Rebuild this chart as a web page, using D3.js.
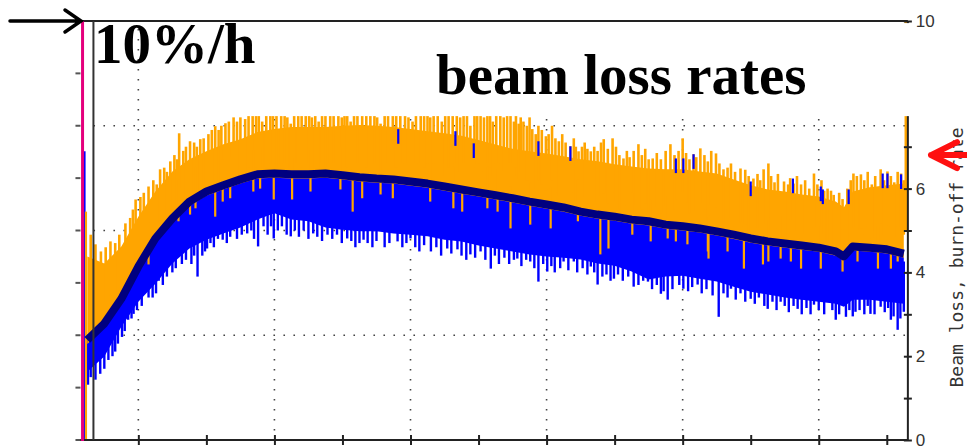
<!DOCTYPE html>
<html><head><meta charset="utf-8">
<script src="https://cdn.jsdelivr.net/npm/d3@7"></script>
<style>html,body{margin:0;padding:0;background:#fff;}svg{display:block;}</style>
</head><body>
<svg id="c" width="967" height="448"></svg>
<script>
// ---- data (time in hours after start, rates in %/h) ----
const times = [0.25,0.5,0.75,1,1.25,1.5,1.75,2,2.25,2.5,2.75,3,3.25,3.5,3.75,4,4.25,4.5,4.75,5,5.25,5.5,5.75,6,6.25,6.5,6.75,7,7.25,7.5,7.75,8,8.25,8.5,8.75,9,9.25,9.5,9.75,10,10.25,10.5,10.75,11,11.25,11.37,11.5,11.75,12,12.25];
const burnOffRate = [2.39,2.78,3.37,4.14,4.81,5.29,5.69,5.93,6.08,6.22,6.34,6.36,6.34,6.34,6.36,6.32,6.27,6.24,6.22,6.17,6.12,6.05,5.98,5.91,5.84,5.77,5.69,5.62,5.55,5.45,5.38,5.33,5.26,5.22,5.14,5.10,5.05,4.98,4.90,4.81,4.74,4.69,4.64,4.59,4.50,4.38,4.62,4.59,4.55,4.45];
const lossUpper = [4.38,4.21,4.62,5.33,5.93,6.41,6.70,6.89,7.06,7.18,7.35,7.42,7.47,7.47,7.47,7.50,7.52,7.50,7.47,7.42,7.37,7.32,7.26,7.16,7.05,6.95,6.89,6.84,6.77,6.70,6.65,6.58,6.53,6.48,6.46,6.46,6.41,6.36,6.22,6.08,5.98,5.93,5.86,5.81,5.69,5.55,5.93,6.03,6.08,6.12];
const lossLower = [1.63,1.99,2.70,3.30,3.73,4.21,4.57,4.78,4.93,5.07,5.26,5.41,5.26,5.22,5.07,5.02,4.98,4.98,4.93,4.90,4.86,4.78,4.74,4.64,4.57,4.50,4.43,4.38,4.35,4.31,4.21,4.16,4.02,3.83,3.90,3.92,3.85,3.78,3.66,3.54,3.47,3.40,3.35,3.30,3.25,3.18,3.35,3.35,3.30,3.25];
// isolated upward peaks of the orange loss trace [time, value, (optional base)]
const orangePeaks = [[0.30,4.9],[0.37,4.67],[0.45,4.5],[0.52,4.6],[0.59,4.74],[0.66,4.7],[0.72,4.9],[0.81,5.17],[0.88,5.3],[0.92,5.5],[0.96,5.74],[1.03,5.8],[1.08,5.9],[1.15,6.05],[1.22,6.2],[1.27,6.1],[1.32,6.46],[1.38,6.5],[1.42,6.4],[1.47,6.65],[1.53,6.8],[1.57,6.7],[1.60,7.32],[1.66,6.9],[1.70,7.0],[1.76,7.13],[1.82,7.1],[1.86,7.0],[1.91,7.18],[1.96,7.2],[2.03,7.3],[2.08,7.4],[2.13,7.49],[2.18,7.4],[2.22,7.5],[2.28,7.56],[2.33,7.6],[2.40,7.70],[2.45,7.6],[2.50,7.7],[2.57,7.66],[2.62,7.8],[2.68,7.9],[2.73,7.8],[2.77,7.9],[2.82,7.6],[2.88,7.8],[2.94,7.9],[2.98,7.9],[3.03,7.8],[3.10,7.9],[3.15,7.9],[3.19,7.7],[3.24,7.55],[3.29,7.9],[3.35,7.9],[3.40,7.8],[3.46,7.9],[3.51,7.9],[3.55,7.7],[3.60,7.9],[3.65,7.6],[3.70,7.9],[3.75,7.8],[3.82,7.9],[3.87,7.9],[3.94,7.9],[3.99,7.7],[4.03,7.9],[4.07,7.8],[4.12,7.6],[4.17,7.9],[4.22,7.9],[4.29,7.9],[4.35,7.8],[4.41,7.9],[4.47,7.9],[4.51,7.7],[4.56,7.55],[4.62,7.9],[4.67,7.9],[4.74,7.9],[4.79,7.8],[4.85,7.9],[4.92,7.9],[4.97,7.7],[5.03,7.6],[5.08,7.9],[5.15,7.9],[5.20,7.8],[5.25,7.9],[5.29,7.7],[5.34,7.9],[5.40,7.9],[5.46,7.6],[5.51,7.9],[5.56,7.8],[5.62,7.9],[5.68,7.9],[5.73,7.7],[5.78,7.9],[5.83,7.9],[5.88,7.5],[5.94,7.8],[5.98,7.9],[6.03,7.9],[6.08,7.7],[6.13,7.9],[6.17,7.8],[6.21,7.6],[6.26,7.9],[6.32,7.9],[6.37,7.7],[6.42,7.9],[6.47,7.9],[6.52,7.6],[6.55,7.8],[6.59,7.55],[6.62,7.70],[6.66,7.6],[6.71,7.5],[6.75,7.7],[6.79,7.42],[6.84,7.3],[6.88,7.5],[6.93,7.4],[6.99,7.25],[7.03,7.3],[7.08,7.5],[7.13,7.2],[7.18,7.13],[7.23,7.3],[7.28,7.1],[7.35,7.01],[7.40,7.2],[7.43,7.0],[7.47,6.89],[7.52,7.0],[7.56,7.1],[7.60,6.95],[7.65,6.89],[7.70,7.0],[7.75,6.9],[7.80,7.1],[7.84,7.18],[7.90,6.95],[7.97,7.20],[8.02,7.0],[8.07,6.8],[8.13,6.72],[8.18,6.9],[8.22,6.75],[8.28,6.9],[8.35,7.06],[8.40,6.8],[8.45,6.95],[8.50,6.7],[8.56,6.72],[8.62,6.85],[8.68,6.7],[8.75,6.9],[8.82,7.06],[8.88,6.8],[8.94,6.9],[9.00,7.20],[9.05,6.85],[9.10,6.7],[9.16,6.82],[9.20,6.75],[9.26,6.96],[9.32,6.8],[9.37,6.65],[9.42,6.9],[9.49,6.84],[9.54,6.6],[9.60,6.46],[9.66,6.5],[9.71,6.6],[9.77,6.4],[9.85,6.48],[9.92,6.45],[9.97,6.3],[10.04,6.24],[10.10,6.35],[10.14,6.2],[10.19,6.46],[10.26,6.60],[10.30,6.3],[10.35,6.15],[10.40,6.35],[10.49,6.17],[10.55,6.1],[10.58,6.25],[10.63,6.12],[10.68,6.3],[10.74,6.1],[10.80,6.2],[10.86,6.0],[10.93,6.36],[10.98,6.1],[11.04,6.2],[11.08,5.95],[11.13,6.00],[11.18,5.95],[11.22,5.85],[11.30,5.9],[11.35,5.75],[11.42,6.0],[11.47,6.2],[11.51,6.36],[11.56,6.3],[11.62,6.34],[11.67,6.2],[11.72,6.4],[11.78,6.1],[11.83,6.3],[11.91,6.46],[11.96,6.2],[12.01,6.41],[12.06,6.3],[12.11,6.15],[12.16,6.4],[12.21,6.36],[12.25,6.2],[12.28,10,5.0]];
// isolated downward dips of the blue loss trace [time, value]
const blueDips = [[0.26,1.32],[0.30,1.5],[0.37,1.44],[0.44,1.58],[0.50,1.7],[0.56,1.91],[0.62,2.0],[0.66,2.11],[0.70,2.3],[0.76,2.46],[0.80,2.6],[0.85,2.87],[0.90,2.9],[0.93,3.01],[0.98,3.1],[1.05,3.2],[1.10,3.54],[1.15,3.4],[1.21,3.40],[1.26,3.5],[1.30,3.8],[1.36,3.7],[1.42,3.9],[1.50,4.0],[1.55,4.1],[1.64,4.2],[1.70,4.3],[1.78,4.2],[1.82,4.4],[1.87,3.90],[1.94,4.4],[1.98,4.5],[2.01,4.57],[2.06,4.7],[2.11,4.6],[2.17,4.8],[2.24,4.78],[2.30,4.7],[2.35,4.85],[2.45,4.8],[2.52,4.9],[2.60,4.93],[2.66,5.0],[2.70,4.8],[2.76,4.62],[2.84,5.1],[2.90,4.9],[2.95,5.1],[2.99,4.81],[3.05,5.0],[3.11,5.1],[3.18,4.9],[3.24,4.86],[3.30,5.0],[3.36,4.85],[3.43,5.0],[3.50,4.8],[3.57,4.93],[3.63,4.85],[3.70,4.75],[3.78,4.90],[3.85,4.8],[3.92,4.9],[3.99,4.7],[4.07,4.81],[4.13,4.75],[4.19,4.6],[4.25,4.7],[4.31,4.78],[4.37,4.7],[4.44,4.6],[4.50,4.75],[4.62,4.6],[4.69,4.7],[4.81,4.74],[4.88,4.6],[4.94,4.7],[5.00,4.81],[5.07,4.6],[5.13,4.5],[5.20,4.65],[5.30,4.5],[5.38,4.6],[5.45,4.4],[5.54,4.57],[5.60,4.45],[5.69,4.55],[5.75,4.4],[5.82,4.3],[5.88,4.43],[5.95,4.35],[6.03,4.5],[6.10,4.3],[6.18,4.09],[6.24,4.4],[6.30,4.2],[6.38,4.35],[6.45,4.2],[6.52,4.3],[6.57,4.33],[6.63,4.15],[6.70,4.3],[6.76,4.26],[6.82,4.1],[6.88,3.78],[6.95,4.2],[7.01,4.02],[7.07,4.15],[7.12,4.0],[7.20,4.1],[7.25,4.26],[7.32,4.05],[7.40,4.26],[7.45,4.0],[7.53,4.1],[7.60,3.95],[7.65,4.14],[7.70,4.0],[7.75,3.71],[7.82,3.9],[7.88,3.95],[7.94,3.8],[7.99,3.85],[8.05,3.95],[8.12,3.8],[8.20,3.9],[8.28,3.66],[8.35,3.7],[8.42,3.8],[8.49,3.78],[8.55,3.6],[8.62,3.7],[8.68,3.49],[8.72,3.55],[8.78,3.35],[8.85,3.6],[8.95,3.7],[9.01,3.61],[9.08,3.55],[9.14,3.65],[9.22,3.71],[9.28,3.5],[9.35,3.6],[9.44,3.45],[9.53,2.94],[9.60,3.5],[9.66,3.4],[9.71,3.61],[9.78,3.35],[9.85,3.5],[9.92,3.3],[10.00,3.37],[10.06,3.25],[10.12,3.4],[10.20,3.2],[10.25,3.13],[10.32,3.3],[10.38,3.1],[10.44,3.30],[10.50,3.2],[10.56,3.05],[10.63,3.2],[10.69,3.13],[10.75,3.0],[10.82,3.15],[10.88,3.0],[10.93,3.23],[11.00,3.1],[11.08,3.0],[11.13,3.35],[11.20,3.1],[11.25,2.87],[11.30,3.0],[11.40,2.94],[11.45,3.1],[11.50,2.95],[11.54,3.06],[11.60,3.1],[11.67,3.0],[11.72,3.2],[11.76,3.01],[11.82,3.0],[11.91,3.18],[11.97,3.05],[12.02,3.15],[12.06,2.87],[12.10,2.95],[12.16,2.63],[12.20,2.9],[12.25,3.06]];
// orange readings below the burn-off band [time, value]
const orangeDips = [[1.15,4.19],[1.59,5.22],[1.76,5.38],[1.84,5.53],[2.13,5.33],[2.24,5.69],[2.35,5.77],[2.69,5.93],[2.79,6.00],[2.99,5.74],[3.26,5.74],[3.53,5.93],[3.97,5.98],[4.15,5.45],[4.29,5.77],[4.56,5.86],[4.74,5.77],[5.29,5.69],[5.63,5.53],[5.76,5.45],[6.13,5.53],[6.28,5.45],[6.47,5.05],[6.76,5.14],[7.06,5.05],[7.46,5.22],[7.79,4.43],[7.91,4.57],[8.26,4.90],[8.53,4.74],[8.78,4.81],[8.90,4.74],[9.07,4.67],[9.37,4.50],[9.38,4.33],[9.66,4.50],[9.90,4.09],[10.18,4.19],[10.26,4.26],[10.44,4.33],[10.59,4.26],[10.74,4.09],[11.03,4.09],[11.35,4.02],[11.57,4.26],[11.87,4.09],[12.06,4.09],[12.16,4.26]];
// blue readings poking above the orange band [time, value]
const bluePeaks = [[4.82,7.42],[5.66,7.37],[5.93,7.08],[6.88,7.13],[7.35,7.01],[8.90,6.72],[9.01,6.72],[9.16,6.82],[10.00,6.17],[10.62,6.24],[11.03,6.05],[11.06,5.98],[11.44,5.98],[11.94,6.36],[12.01,6.36],[12.21,6.34]];
const startBlue = [0.21, 6.89];
const startOrange = [0.23, 5.45];
const markerTime = 0.18;
const rightTicks = [0,1,2,3,4,5,6,7,8,9,10];
const rightLabels = [0,2,4,6,10];
const leftTicks = [0,1,2,3,4,5,6,7,8];
const leftGrid = [2,4,6];
const timeTicks = [1,2,3,4,5,6,7,8,9,10,11,12];
const timeGrid = [1,3,5,7,9,11];
const axisTitle = "Beam loss, burn-off rate";

// ---- scales ----
const x = d3.scaleLinear().domain([0, 12.5]).range([70.3, 70.3 + 68.04 * 12.5]);
const y = d3.scaleLinear().domain([0, 10]).range([440, 21]);
const yL = d3.scaleLinear().domain([0, 8]).range([440, 21]);
const tLeft = 0.34, tRight = 12.31, tAxisStart = 0.12;

const svg = d3.select('#c');
const ORANGE = '#ffa500', BLUE = '#0000ff', NAVY = '#000080';

// gridlines
const grid = svg.append('g').attr('stroke', '#444').attr('stroke-width', 1.6).attr('stroke-dasharray', '1.6,8.4');
timeGrid.forEach(t => grid.append('line').attr('x1', x(t)).attr('x2', x(t)).attr('y1', y(10) + 8).attr('y2', y(0)));
leftGrid.forEach(v => grid.append('line').attr('x1', x(tLeft)).attr('x2', x(tRight)).attr('y1', yL(v)).attr('y2', yL(v)));

const idx = d3.range(times.length);
const data = svg.append('g');
// blue band
data.append('path').datum(idx)
  .attr('d', d3.area().x(i => x(times[i])).y0(i => y(lossLower[i])).y1(i => y(burnOffRate[i] + 0.1)))
  .attr('fill', BLUE);
data.append('g').attr('stroke', BLUE).attr('stroke-width', 2.4).selectAll('line').data(blueDips).join('line')
  .attr('x1', d => x(d[0])).attr('x2', d => x(d[0])).attr('y1', d => y(d[1])).attr('y2', d => y(d[1] + 1.2));
data.append('line').attr('stroke', BLUE).attr('stroke-width', 2)
  .attr('x1', x(startBlue[0])).attr('x2', x(startBlue[0])).attr('y1', y(0)).attr('y2', y(startBlue[1]));
// orange band
data.append('path').datum(idx)
  .attr('d', d3.area().x(i => x(times[i])).y0(i => y(burnOffRate[i] - 0.1)).y1(i => y(lossUpper[i])))
  .attr('fill', ORANGE);
data.append('g').attr('stroke', ORANGE).attr('stroke-width', 2.6).selectAll('line').data(orangePeaks).join('line')
  .attr('x1', d => x(d[0])).attr('x2', d => x(d[0])).attr('y1', d => y(d[1])).attr('y2', d => y(d[2] !== undefined ? d[2] : d[1] - 1.3));
data.append('g').attr('stroke', ORANGE).attr('stroke-width', 2.2).selectAll('line').data(orangeDips).join('line')
  .attr('x1', d => x(d[0])).attr('x2', d => x(d[0])).attr('y1', d => y(d[1])).attr('y2', d => y(d[1] + 1.0));
data.append('line').attr('stroke', ORANGE).attr('stroke-width', 2.2)
  .attr('x1', x(startOrange[0])).attr('x2', x(startOrange[0])).attr('y1', y(0)).attr('y2', y(startOrange[1]));
data.append('g').attr('stroke', BLUE).attr('stroke-width', 2.2).selectAll('line').data(bluePeaks).join('line')
  .attr('x1', d => x(d[0])).attr('x2', d => x(d[0])).attr('y1', d => y(d[1])).attr('y2', d => y(d[1] - 0.35));
// burn-off rate
data.append('path').datum(idx)
  .attr('d', d3.line().x(i => x(times[i])).y(i => y(burnOffRate[i])))
  .attr('fill', 'none').attr('stroke', NAVY).attr('stroke-width', 8).attr('stroke-linejoin', 'round');

// frame
const frame = svg.append('g').attr('stroke', '#222').attr('stroke-width', 2);
frame.append('line').attr('x1', x(tAxisStart)).attr('x2', x(tRight)).attr('y1', y(0)).attr('y2', y(0));
frame.append('line').attr('x1', x(tAxisStart)).attr('x2', x(tRight)).attr('y1', y(10)).attr('y2', y(10));
frame.append('line').attr('x1', x(tLeft)).attr('x2', x(tLeft)).attr('y1', y(10)).attr('y2', y(0)).attr('stroke', '#333');
frame.append('line').attr('x1', x(tRight)).attr('x2', x(tRight)).attr('y1', y(10)).attr('y2', y(0) + 1);

// bottom ticks (crossing)
const bAxis = svg.append('g').attr('transform', `translate(0,${y(0)})`)
  .call(d3.axisBottom(x).tickValues(timeTicks).tickSize(5).tickFormat(''));
bAxis.select('.domain').remove();
bAxis.selectAll('.tick line').attr('y1', -5).attr('y2', 5).attr('stroke', '#222').attr('stroke-width', 2);

// left small ticks
svg.append('g').attr('stroke', '#555').attr('stroke-width', 2).selectAll('line').data(leftTicks).join('line')
  .attr('x1', x(tAxisStart) - 3).attr('x2', x(tAxisStart) + 2).attr('y1', d => yL(d)).attr('y2', d => yL(d));

// pasted-over white label box (as in the reference composite)
svg.append('rect').attr('x', x(1.13)).attr('y', y(9.95)).attr('width', x(12.39) - x(1.13)).attr('height', y(7.73) - y(9.95)).attr('fill', '#fff');

// right axis
const rAxis = svg.append('g').attr('transform', `translate(${x(tRight)},0)`)
  .call(d3.axisRight(y).tickValues(rightTicks).tickSize(4).tickPadding(4)
    .tickFormat(d => rightLabels.includes(d) ? d : ''));
rAxis.select('.domain').remove();
rAxis.selectAll('.tick line').attr('x1', -4).attr('x2', 4).attr('stroke', '#222').attr('stroke-width', 2)
  .attr('display', d => (d === 8 || d === 9) ? 'none' : null);
rAxis.selectAll('.tick text').attr('font-family', '"Liberation Sans", Arial, sans-serif').attr('font-size', 17).attr('fill', '#333');

// marker line (magenta)
svg.append('line').attr('x1', x(markerTime)).attr('x2', x(markerTime)).attr('y1', y(10)).attr('y2', y(0) + 1)
  .attr('stroke', '#e4007c').attr('stroke-width', 3);

// axis title
svg.append('text').attr('transform', `translate(963,${(y(0) + y(10)) / 2 + 27}) rotate(-90)`)
  .attr('text-anchor', 'middle').attr('font-family', '"DejaVu Sans Mono", monospace').attr('font-size', 18)
  .attr('fill', '#333').text(axisTitle);

// red arrow
const ay = y(6.8);
svg.append('path').attr('d', `M967,${ay} L931,${ay} M957,${ay - 13} L931,${ay} L957,${ay + 13}`)
  .attr('fill', 'none').attr('stroke', '#ff1010').attr('stroke-width', 6).attr('stroke-linecap', 'round').attr('stroke-linejoin', 'round');

// black arrow at 10 %/h
const by = y(10);
svg.append('path').attr('d', `M10,${by} L80,${by} M65,${by - 11} L81,${by} L65,${by + 11}`)
  .attr('fill', 'none').attr('stroke', '#000').attr('stroke-width', 3.5).attr('stroke-linecap', 'round');

// big labels
svg.append('text').attr('x', 94).attr('y', 63).attr('font-family', '"Liberation Serif", "Times New Roman", serif')
  .attr('font-weight', 'bold').attr('font-size', 57).attr('fill', '#000').text('10%/h');
svg.append('text').attr('x', 436).attr('y', 94).attr('font-family', '"Liberation Serif", "Times New Roman", serif')
  .attr('font-weight', 'bold').attr('font-size', 57).attr('fill', '#000').text('beam loss rates');
</script>
</body></html>
